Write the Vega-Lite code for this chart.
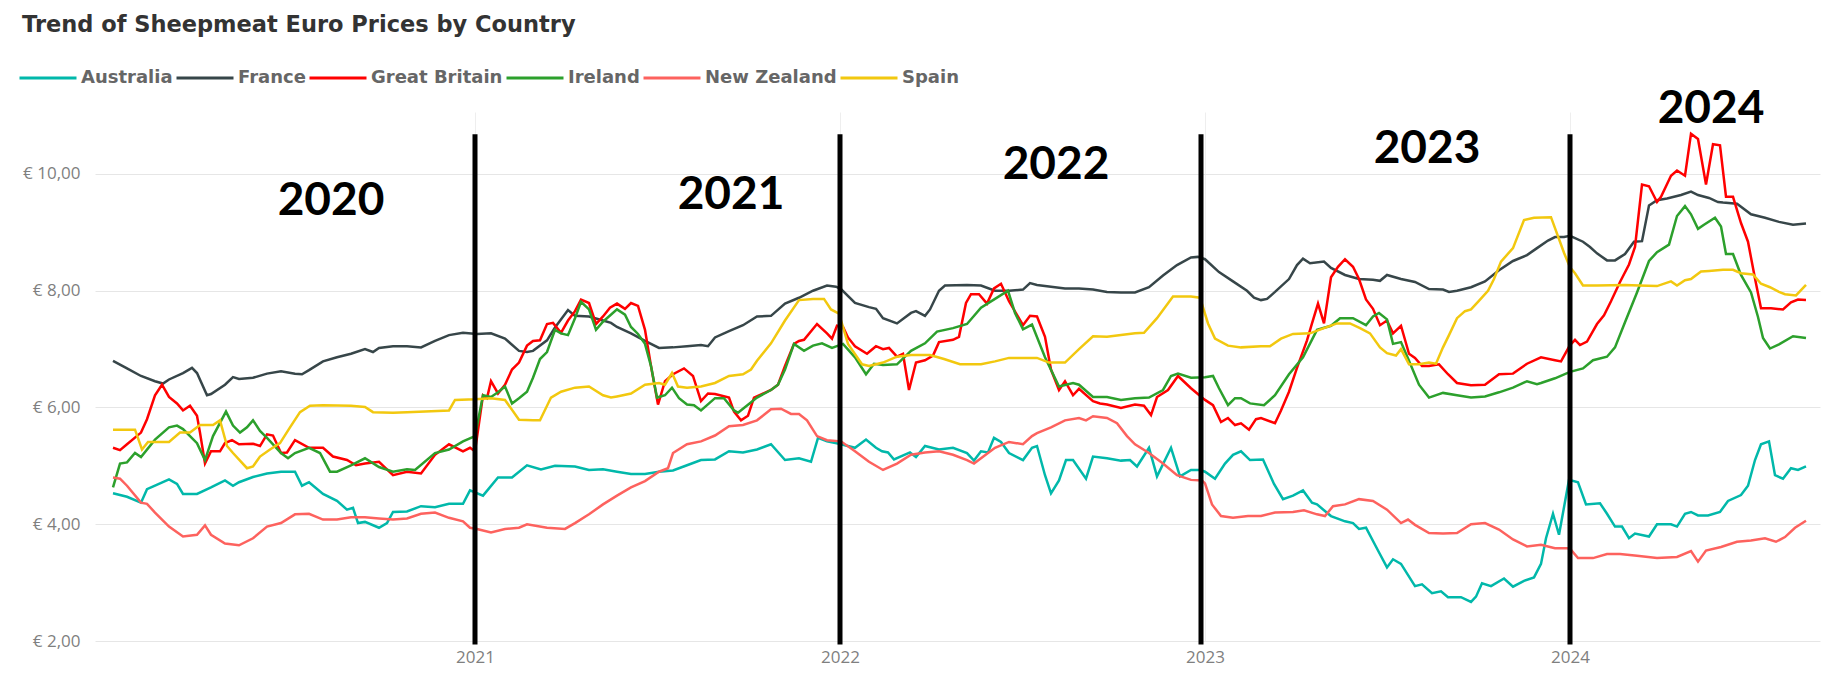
{
"$schema": "https://vega.github.io/schema/vega-lite/v6.json",
"width": 1725,
"height": 529,
"autosize": {"type": "none"},
"padding": {"left": 95, "top": 112, "right": 11, "bottom": 45},
"background": "white",
"config": {
  "view": {"stroke": null},
  "axis": {"domain": false, "ticks": false, "labelFont": "Open Sans", "labelFontSize": 17, "labelColor": "#7f7f7f", "gridColor": "#e6e6e6", "gridWidth": 1, "labelOverlap": false, "labelFlush": false}
},
"title": {"text": "Trend of Sheepmeat Euro Prices by Country", "anchor": "start", "frame": "group", "dx": -73, "offset": -11, "baseline": "bottom", "font": "DejaVu Sans", "fontSize": 22.5, "fontWeight": "bold", "color": "#333333"},
"datasets": {
"Australia": [
{"date":"2020-01-05","price":4.53},{"date":"2020-01-19","price":4.47},{"date":"2020-02-02","price":4.37},{"date":"2020-02-08","price":4.60},{"date":"2020-02-16","price":4.66},{"date":"2020-03-01","price":4.77},{"date":"2020-03-09","price":4.69},{"date":"2020-03-15","price":4.52},{"date":"2020-03-29","price":4.52},{"date":"2020-04-12","price":4.63},{"date":"2020-04-26","price":4.75},{"date":"2020-05-04","price":4.66},{"date":"2020-05-10","price":4.72},{"date":"2020-05-24","price":4.81},{"date":"2020-06-07","price":4.87},{"date":"2020-06-21","price":4.90},{"date":"2020-07-05","price":4.90},{"date":"2020-07-12","price":4.66},{"date":"2020-07-19","price":4.72},{"date":"2020-08-02","price":4.52},{"date":"2020-08-16","price":4.40},{"date":"2020-08-26","price":4.25},{"date":"2020-09-01","price":4.28},{"date":"2020-09-06","price":4.02},{"date":"2020-09-13","price":4.04},{"date":"2020-09-27","price":3.94},{"date":"2020-10-05","price":4.02},{"date":"2020-10-11","price":4.21},{"date":"2020-10-25","price":4.22},{"date":"2020-11-08","price":4.31},{"date":"2020-11-22","price":4.29},{"date":"2020-12-06","price":4.35},{"date":"2020-12-20","price":4.35},{"date":"2020-12-27","price":4.58},
{"date":"2021-01-09","price":4.49},{"date":"2021-01-24","price":4.80},{"date":"2021-02-07","price":4.80},{"date":"2021-02-22","price":5.01},{"date":"2021-03-08","price":4.94},{"date":"2021-03-22","price":5.00},{"date":"2021-04-11","price":4.99},{"date":"2021-04-25","price":4.93},{"date":"2021-05-09","price":4.94},{"date":"2021-05-23","price":4.90},{"date":"2021-06-06","price":4.86},{"date":"2021-06-20","price":4.86},{"date":"2021-07-04","price":4.90},{"date":"2021-07-18","price":4.92},{"date":"2021-08-01","price":5.01},{"date":"2021-08-15","price":5.10},{"date":"2021-08-29","price":5.11},{"date":"2021-09-12","price":5.25},{"date":"2021-09-26","price":5.23},{"date":"2021-10-10","price":5.28},{"date":"2021-10-24","price":5.37},{"date":"2021-11-07","price":5.10},{"date":"2021-11-21","price":5.13},{"date":"2021-12-03","price":5.07},{"date":"2021-12-10","price":5.48},{"date":"2021-12-19","price":5.42},{"date":"2021-12-31","price":5.38},
{"date":"2022-01-16","price":5.31},{"date":"2022-01-27","price":5.45},{"date":"2022-02-06","price":5.31},{"date":"2022-02-12","price":5.25},{"date":"2022-02-18","price":5.23},{"date":"2022-02-24","price":5.11},{"date":"2022-03-12","price":5.23},{"date":"2022-03-18","price":5.15},{"date":"2022-03-27","price":5.34},{"date":"2022-04-10","price":5.28},{"date":"2022-04-24","price":5.31},{"date":"2022-05-08","price":5.22},{"date":"2022-05-15","price":5.09},{"date":"2022-05-22","price":5.25},{"date":"2022-05-29","price":5.23},{"date":"2022-06-04","price":5.48},{"date":"2022-06-11","price":5.41},{"date":"2022-06-19","price":5.22},{"date":"2022-07-03","price":5.10},{"date":"2022-07-12","price":5.31},{"date":"2022-07-17","price":5.34},{"date":"2022-07-25","price":4.84},{"date":"2022-07-31","price":4.53},{"date":"2022-08-08","price":4.75},{"date":"2022-08-15","price":5.10},{"date":"2022-08-22","price":5.10},{"date":"2022-09-04","price":4.78},{"date":"2022-09-11","price":5.16},{"date":"2022-09-25","price":5.13},{"date":"2022-10-09","price":5.09},{"date":"2022-10-18","price":5.10},{"date":"2022-10-25","price":4.99},{"date":"2022-11-06","price":5.31},{"date":"2022-11-14","price":4.82},{"date":"2022-11-28","price":5.31},{"date":"2022-12-07","price":4.82},{"date":"2022-12-18","price":4.93},{"date":"2022-12-27","price":4.93},
{"date":"2023-01-01","price":4.90},{"date":"2023-01-11","price":4.78},{"date":"2023-01-21","price":5.04},{"date":"2023-01-29","price":5.19},{"date":"2023-02-06","price":5.25},{"date":"2023-02-15","price":5.10},{"date":"2023-02-28","price":5.11},{"date":"2023-03-11","price":4.69},{"date":"2023-03-20","price":4.43},{"date":"2023-03-30","price":4.49},{"date":"2023-04-09","price":4.58},{"date":"2023-04-18","price":4.37},{"date":"2023-04-23","price":4.34},{"date":"2023-05-07","price":4.14},{"date":"2023-05-21","price":4.05},{"date":"2023-05-29","price":4.02},{"date":"2023-06-04","price":3.92},{"date":"2023-06-11","price":3.94},{"date":"2023-06-23","price":3.55},{"date":"2023-07-02","price":3.26},{"date":"2023-07-08","price":3.40},{"date":"2023-07-16","price":3.32},{"date":"2023-07-30","price":2.94},{"date":"2023-08-06","price":2.97},{"date":"2023-08-16","price":2.82},{"date":"2023-08-25","price":2.85},{"date":"2023-09-01","price":2.75},{"date":"2023-09-14","price":2.75},{"date":"2023-09-24","price":2.67},{"date":"2023-09-29","price":2.76},{"date":"2023-10-05","price":2.99},{"date":"2023-10-14","price":2.94},{"date":"2023-10-27","price":3.07},{"date":"2023-11-05","price":2.93},{"date":"2023-11-16","price":3.03},{"date":"2023-11-26","price":3.09},{"date":"2023-12-03","price":3.32},{"date":"2023-12-08","price":3.76},{"date":"2023-12-15","price":4.18},{"date":"2023-12-21","price":3.82},{"date":"2023-12-31","price":4.76},
{"date":"2024-01-09","price":4.72},{"date":"2024-01-17","price":4.34},{"date":"2024-01-31","price":4.36},{"date":"2024-02-07","price":4.18},{"date":"2024-02-15","price":3.96},{"date":"2024-02-22","price":3.96},{"date":"2024-02-29","price":3.76},{"date":"2024-03-06","price":3.84},{"date":"2024-03-20","price":3.79},{"date":"2024-03-28","price":4.00},{"date":"2024-04-11","price":4.00},{"date":"2024-04-17","price":3.96},{"date":"2024-04-25","price":4.18},{"date":"2024-05-01","price":4.21},{"date":"2024-05-08","price":4.15},{"date":"2024-05-18","price":4.15},{"date":"2024-05-30","price":4.21},{"date":"2024-06-07","price":4.40},{"date":"2024-06-20","price":4.50},{"date":"2024-06-27","price":4.66},{"date":"2024-07-04","price":5.10},{"date":"2024-07-10","price":5.37},{"date":"2024-07-18","price":5.42},{"date":"2024-07-24","price":4.84},{"date":"2024-08-01","price":4.78},{"date":"2024-08-09","price":4.96},{"date":"2024-08-16","price":4.93},{"date":"2024-08-24","price":4.99}
],
"France": [
{"date":"2020-01-05","price":6.80},{"date":"2020-01-19","price":6.67},{"date":"2020-02-02","price":6.54},{"date":"2020-02-16","price":6.45},{"date":"2020-02-24","price":6.41},{"date":"2020-03-01","price":6.48},{"date":"2020-03-15","price":6.59},{"date":"2020-03-24","price":6.68},{"date":"2020-03-29","price":6.59},{"date":"2020-04-08","price":6.21},{"date":"2020-04-12","price":6.23},{"date":"2020-04-26","price":6.39},{"date":"2020-05-04","price":6.52},{"date":"2020-05-10","price":6.49},{"date":"2020-05-24","price":6.51},{"date":"2020-06-07","price":6.58},{"date":"2020-06-21","price":6.62},{"date":"2020-07-05","price":6.58},{"date":"2020-07-12","price":6.57},{"date":"2020-07-19","price":6.64},{"date":"2020-08-02","price":6.79},{"date":"2020-08-16","price":6.86},{"date":"2020-08-30","price":6.92},{"date":"2020-09-13","price":7.00},{"date":"2020-09-21","price":6.95},{"date":"2020-09-27","price":7.02},{"date":"2020-10-11","price":7.05},{"date":"2020-10-25","price":7.05},{"date":"2020-11-08","price":7.03},{"date":"2020-11-22","price":7.14},{"date":"2020-12-06","price":7.24},{"date":"2020-12-20","price":7.28},
{"date":"2021-01-03","price":7.26},{"date":"2021-01-17","price":7.27},{"date":"2021-01-31","price":7.18},{"date":"2021-02-14","price":6.97},{"date":"2021-02-22","price":6.95},{"date":"2021-02-28","price":6.97},{"date":"2021-03-14","price":7.15},{"date":"2021-03-22","price":7.37},{"date":"2021-04-04","price":7.67},{"date":"2021-04-11","price":7.57},{"date":"2021-04-25","price":7.56},{"date":"2021-05-09","price":7.49},{"date":"2021-05-17","price":7.45},{"date":"2021-05-23","price":7.38},{"date":"2021-06-06","price":7.27},{"date":"2021-06-20","price":7.14},{"date":"2021-07-04","price":7.02},{"date":"2021-07-18","price":7.03},{"date":"2021-08-01","price":7.05},{"date":"2021-08-15","price":7.07},{"date":"2021-08-22","price":7.05},{"date":"2021-08-29","price":7.20},{"date":"2021-09-12","price":7.31},{"date":"2021-09-26","price":7.41},{"date":"2021-10-10","price":7.56},{"date":"2021-10-24","price":7.57},{"date":"2021-11-07","price":7.78},{"date":"2021-11-21","price":7.88},{"date":"2021-12-05","price":8.00},{"date":"2021-12-19","price":8.09},{"date":"2021-12-28","price":8.07},
{"date":"2022-01-02","price":8.03},{"date":"2022-01-16","price":7.79},{"date":"2022-01-30","price":7.72},{"date":"2022-02-06","price":7.69},{"date":"2022-02-13","price":7.53},{"date":"2022-02-27","price":7.44},{"date":"2022-03-13","price":7.62},{"date":"2022-03-18","price":7.65},{"date":"2022-03-27","price":7.57},{"date":"2022-04-01","price":7.68},{"date":"2022-04-10","price":8.00},{"date":"2022-04-16","price":8.09},{"date":"2022-05-08","price":8.10},{"date":"2022-05-22","price":8.09},{"date":"2022-06-05","price":8.00},{"date":"2022-06-19","price":8.00},{"date":"2022-07-03","price":8.02},{"date":"2022-07-10","price":8.13},{"date":"2022-07-17","price":8.10},{"date":"2022-07-31","price":8.07},{"date":"2022-08-14","price":8.04},{"date":"2022-08-28","price":8.04},{"date":"2022-09-11","price":8.02},{"date":"2022-09-25","price":7.98},{"date":"2022-10-09","price":7.97},{"date":"2022-10-23","price":7.97},{"date":"2022-11-06","price":8.06},{"date":"2022-11-20","price":8.26},{"date":"2022-12-04","price":8.44},{"date":"2022-12-18","price":8.57},{"date":"2022-12-25","price":8.58},
{"date":"2023-01-01","price":8.54},{"date":"2023-01-15","price":8.32},{"date":"2023-01-29","price":8.16},{"date":"2023-02-12","price":8.00},{"date":"2023-02-19","price":7.88},{"date":"2023-02-26","price":7.84},{"date":"2023-03-04","price":7.86},{"date":"2023-03-12","price":7.98},{"date":"2023-03-26","price":8.20},{"date":"2023-04-03","price":8.44},{"date":"2023-04-09","price":8.55},{"date":"2023-04-16","price":8.47},{"date":"2023-04-30","price":8.50},{"date":"2023-05-07","price":8.39},{"date":"2023-05-21","price":8.27},{"date":"2023-06-04","price":8.20},{"date":"2023-06-18","price":8.19},{"date":"2023-06-25","price":8.17},{"date":"2023-07-02","price":8.27},{"date":"2023-07-16","price":8.20},{"date":"2023-07-30","price":8.15},{"date":"2023-08-13","price":8.03},{"date":"2023-08-27","price":8.02},{"date":"2023-09-02","price":7.98},{"date":"2023-09-10","price":8.00},{"date":"2023-09-24","price":8.06},{"date":"2023-10-08","price":8.16},{"date":"2023-10-22","price":8.35},{"date":"2023-11-05","price":8.51},{"date":"2023-11-19","price":8.61},{"date":"2023-11-29","price":8.73},{"date":"2023-12-10","price":8.86},{"date":"2023-12-17","price":8.92},{"date":"2023-12-26","price":8.92},
{"date":"2024-01-01","price":8.94},{"date":"2024-01-14","price":8.84},{"date":"2024-01-21","price":8.75},{"date":"2024-01-28","price":8.64},{"date":"2024-02-07","price":8.52},{"date":"2024-02-15","price":8.52},{"date":"2024-02-25","price":8.63},{"date":"2024-03-05","price":8.84},{"date":"2024-03-13","price":8.85},{"date":"2024-03-20","price":9.46},{"date":"2024-03-28","price":9.55},{"date":"2024-04-07","price":9.58},{"date":"2024-04-21","price":9.64},{"date":"2024-05-01","price":9.70},{"date":"2024-05-08","price":9.64},{"date":"2024-05-19","price":9.59},{"date":"2024-05-28","price":9.52},{"date":"2024-06-02","price":9.51},{"date":"2024-06-16","price":9.49},{"date":"2024-06-30","price":9.31},{"date":"2024-07-07","price":9.28},{"date":"2024-07-14","price":9.25},{"date":"2024-07-28","price":9.18},{"date":"2024-08-11","price":9.13},{"date":"2024-08-24","price":9.15}
],
"GreatBritain": [
{"date":"2020-01-05","price":5.31},{"date":"2020-01-12","price":5.27},{"date":"2020-01-19","price":5.37},{"date":"2020-02-02","price":5.57},{"date":"2020-02-08","price":5.80},{"date":"2020-02-16","price":6.21},{"date":"2020-02-23","price":6.39},{"date":"2020-03-01","price":6.18},{"date":"2020-03-09","price":6.07},{"date":"2020-03-15","price":5.95},{"date":"2020-03-22","price":6.03},{"date":"2020-03-29","price":5.86},{"date":"2020-04-01","price":5.57},{"date":"2020-04-06","price":5.04},{"date":"2020-04-12","price":5.25},{"date":"2020-04-21","price":5.25},{"date":"2020-04-26","price":5.39},{"date":"2020-05-03","price":5.44},{"date":"2020-05-10","price":5.37},{"date":"2020-05-24","price":5.38},{"date":"2020-05-31","price":5.34},{"date":"2020-06-07","price":5.54},{"date":"2020-06-13","price":5.52},{"date":"2020-06-21","price":5.22},{"date":"2020-06-27","price":5.23},{"date":"2020-07-05","price":5.44},{"date":"2020-07-19","price":5.31},{"date":"2020-08-02","price":5.31},{"date":"2020-08-12","price":5.16},{"date":"2020-08-26","price":5.10},{"date":"2020-09-04","price":5.01},{"date":"2020-09-13","price":5.04},{"date":"2020-09-27","price":5.07},{"date":"2020-10-11","price":4.84},{"date":"2020-10-25","price":4.90},{"date":"2020-11-08","price":4.87},{"date":"2020-11-22","price":5.19},{"date":"2020-12-06","price":5.37},{"date":"2020-12-20","price":5.25},{"date":"2020-12-27","price":5.31},
{"date":"2021-01-01","price":5.25},{"date":"2021-01-09","price":6.21},{"date":"2021-01-13","price":6.16},{"date":"2021-01-17","price":6.45},{"date":"2021-01-24","price":6.24},{"date":"2021-01-31","price":6.39},{"date":"2021-02-07","price":6.65},{"date":"2021-02-14","price":6.77},{"date":"2021-02-22","price":7.06},{"date":"2021-02-28","price":7.14},{"date":"2021-03-07","price":7.15},{"date":"2021-03-14","price":7.43},{"date":"2021-03-20","price":7.45},{"date":"2021-03-28","price":7.28},{"date":"2021-04-04","price":7.49},{"date":"2021-04-11","price":7.65},{"date":"2021-04-17","price":7.85},{"date":"2021-04-25","price":7.79},{"date":"2021-05-02","price":7.43},{"date":"2021-05-09","price":7.56},{"date":"2021-05-16","price":7.71},{"date":"2021-05-23","price":7.78},{"date":"2021-05-31","price":7.69},{"date":"2021-06-06","price":7.79},{"date":"2021-06-13","price":7.74},{"date":"2021-06-20","price":7.33},{"date":"2021-06-26","price":6.71},{"date":"2021-07-03","price":6.05},{"date":"2021-07-10","price":6.45},{"date":"2021-07-18","price":6.57},{"date":"2021-07-29","price":6.67},{"date":"2021-08-07","price":6.54},{"date":"2021-08-15","price":6.11},{"date":"2021-08-22","price":6.24},{"date":"2021-08-29","price":6.23},{"date":"2021-09-12","price":6.17},{"date":"2021-09-17","price":5.93},{"date":"2021-09-24","price":5.78},{"date":"2021-10-01","price":5.86},{"date":"2021-10-07","price":6.17},{"date":"2021-10-24","price":6.30},{"date":"2021-10-31","price":6.39},{"date":"2021-11-07","price":6.71},{"date":"2021-11-16","price":7.09},{"date":"2021-11-21","price":7.14},{"date":"2021-11-26","price":7.16},{"date":"2021-12-09","price":7.43},{"date":"2021-12-19","price":7.27},{"date":"2021-12-24","price":7.18},{"date":"2021-12-29","price":7.40},
{"date":"2022-01-04","price":7.38},{"date":"2022-01-09","price":7.20},{"date":"2022-01-16","price":7.05},{"date":"2022-01-28","price":6.92},{"date":"2022-02-06","price":7.05},{"date":"2022-02-13","price":7.00},{"date":"2022-02-19","price":7.02},{"date":"2022-02-27","price":6.87},{"date":"2022-03-05","price":6.92},{"date":"2022-03-11","price":6.30},{"date":"2022-03-18","price":6.77},{"date":"2022-03-27","price":6.81},{"date":"2022-04-04","price":6.89},{"date":"2022-04-10","price":7.12},{"date":"2022-04-24","price":7.16},{"date":"2022-04-30","price":7.21},{"date":"2022-05-07","price":7.79},{"date":"2022-05-12","price":7.94},{"date":"2022-05-20","price":7.94},{"date":"2022-05-28","price":7.78},{"date":"2022-06-04","price":8.04},{"date":"2022-06-11","price":8.12},{"date":"2022-06-19","price":7.82},{"date":"2022-07-03","price":7.41},{"date":"2022-07-10","price":7.57},{"date":"2022-07-17","price":7.56},{"date":"2022-07-25","price":7.21},{"date":"2022-07-31","price":6.65},{"date":"2022-08-08","price":6.30},{"date":"2022-08-14","price":6.45},{"date":"2022-08-22","price":6.21},{"date":"2022-08-28","price":6.32},{"date":"2022-09-11","price":6.11},{"date":"2022-09-18","price":6.07},{"date":"2022-09-25","price":6.05},{"date":"2022-10-09","price":5.99},{"date":"2022-10-23","price":6.05},{"date":"2022-11-01","price":6.03},{"date":"2022-11-08","price":5.87},{"date":"2022-11-14","price":6.18},{"date":"2022-11-25","price":6.30},{"date":"2022-12-05","price":6.54},{"date":"2022-12-18","price":6.33},{"date":"2022-12-29","price":6.17},
{"date":"2023-01-01","price":6.13},{"date":"2023-01-09","price":6.04},{"date":"2023-01-17","price":5.75},{"date":"2023-01-24","price":5.82},{"date":"2023-01-31","price":5.70},{"date":"2023-02-06","price":5.73},{"date":"2023-02-14","price":5.62},{"date":"2023-02-21","price":5.80},{"date":"2023-02-26","price":5.82},{"date":"2023-03-12","price":5.73},{"date":"2023-03-18","price":5.95},{"date":"2023-03-26","price":6.27},{"date":"2023-04-03","price":6.68},{"date":"2023-04-13","price":7.15},{"date":"2023-04-18","price":7.44},{"date":"2023-04-24","price":7.78},{"date":"2023-04-30","price":7.44},{"date":"2023-05-07","price":8.23},{"date":"2023-05-14","price":8.41},{"date":"2023-05-21","price":8.54},{"date":"2023-05-29","price":8.41},{"date":"2023-06-04","price":8.20},{"date":"2023-06-11","price":7.85},{"date":"2023-06-18","price":7.69},{"date":"2023-06-25","price":7.41},{"date":"2023-07-02","price":7.49},{"date":"2023-07-08","price":7.27},{"date":"2023-07-16","price":7.40},{"date":"2023-07-24","price":6.92},{"date":"2023-07-30","price":6.85},{"date":"2023-08-06","price":6.71},{"date":"2023-08-13","price":6.71},{"date":"2023-08-23","price":6.74},{"date":"2023-09-01","price":6.57},{"date":"2023-09-10","price":6.42},{"date":"2023-09-24","price":6.38},{"date":"2023-10-08","price":6.39},{"date":"2023-10-22","price":6.57},{"date":"2023-11-05","price":6.58},{"date":"2023-11-19","price":6.75},{"date":"2023-12-03","price":6.86},{"date":"2023-12-17","price":6.81},{"date":"2023-12-23","price":6.79},
{"date":"2024-01-01","price":7.07},{"date":"2024-01-06","price":7.16},{"date":"2024-01-11","price":7.07},{"date":"2024-01-18","price":7.13},{"date":"2024-01-28","price":7.43},{"date":"2024-02-04","price":7.58},{"date":"2024-02-11","price":7.82},{"date":"2024-02-20","price":8.15},{"date":"2024-02-29","price":8.45},{"date":"2024-03-06","price":8.75},{"date":"2024-03-13","price":9.82},{"date":"2024-03-20","price":9.79},{"date":"2024-03-28","price":9.52},{"date":"2024-04-01","price":9.61},{"date":"2024-04-11","price":9.97},{"date":"2024-04-17","price":10.06},{"date":"2024-04-25","price":9.97},{"date":"2024-05-01","price":10.69},{"date":"2024-05-08","price":10.60},{"date":"2024-05-16","price":9.82},{"date":"2024-05-23","price":10.51},{"date":"2024-05-30","price":10.49},{"date":"2024-06-05","price":9.61},{"date":"2024-06-12","price":9.61},{"date":"2024-06-20","price":9.16},{"date":"2024-06-27","price":8.84},{"date":"2024-07-04","price":8.21},{"date":"2024-07-10","price":7.70},{"date":"2024-07-20","price":7.70},{"date":"2024-08-01","price":7.68},{"date":"2024-08-09","price":7.80},{"date":"2024-08-16","price":7.85},{"date":"2024-08-24","price":7.84}
],
"Ireland": [
{"date":"2020-01-05","price":4.63},{"date":"2020-01-12","price":5.04},{"date":"2020-01-19","price":5.06},{"date":"2020-01-27","price":5.22},{"date":"2020-02-02","price":5.15},{"date":"2020-02-16","price":5.45},{"date":"2020-03-01","price":5.66},{"date":"2020-03-09","price":5.69},{"date":"2020-03-15","price":5.63},{"date":"2020-03-29","price":5.39},{"date":"2020-04-06","price":5.10},{"date":"2020-04-14","price":5.51},{"date":"2020-04-27","price":5.93},{"date":"2020-05-04","price":5.69},{"date":"2020-05-11","price":5.57},{"date":"2020-05-18","price":5.66},{"date":"2020-05-24","price":5.78},{"date":"2020-05-31","price":5.60},{"date":"2020-06-07","price":5.48},{"date":"2020-06-21","price":5.22},{"date":"2020-06-28","price":5.13},{"date":"2020-07-05","price":5.22},{"date":"2020-07-19","price":5.31},{"date":"2020-07-30","price":5.22},{"date":"2020-08-09","price":4.90},{"date":"2020-08-16","price":4.90},{"date":"2020-08-30","price":5.01},{"date":"2020-09-13","price":5.13},{"date":"2020-09-27","price":4.98},{"date":"2020-10-11","price":4.90},{"date":"2020-10-25","price":4.94},{"date":"2020-11-02","price":4.93},{"date":"2020-11-22","price":5.22},{"date":"2020-12-06","price":5.28},{"date":"2020-12-20","price":5.42},
{"date":"2021-01-01","price":5.51},{"date":"2021-01-09","price":6.21},{"date":"2021-01-17","price":6.18},{"date":"2021-01-24","price":6.26},{"date":"2021-01-31","price":6.36},{"date":"2021-02-07","price":6.07},{"date":"2021-02-14","price":6.16},{"date":"2021-02-22","price":6.27},{"date":"2021-02-28","price":6.51},{"date":"2021-03-07","price":6.83},{"date":"2021-03-14","price":6.95},{"date":"2021-03-22","price":7.33},{"date":"2021-03-28","price":7.27},{"date":"2021-04-04","price":7.24},{"date":"2021-04-11","price":7.53},{"date":"2021-04-17","price":7.81},{"date":"2021-04-25","price":7.68},{"date":"2021-05-02","price":7.33},{"date":"2021-05-09","price":7.47},{"date":"2021-05-23","price":7.68},{"date":"2021-05-31","price":7.59},{"date":"2021-06-06","price":7.38},{"date":"2021-06-13","price":7.26},{"date":"2021-06-20","price":7.09},{"date":"2021-06-26","price":6.71},{"date":"2021-07-02","price":6.17},{"date":"2021-07-10","price":6.21},{"date":"2021-07-17","price":6.34},{"date":"2021-07-24","price":6.16},{"date":"2021-08-01","price":6.05},{"date":"2021-08-08","price":6.04},{"date":"2021-08-15","price":5.95},{"date":"2021-08-29","price":6.16},{"date":"2021-09-07","price":6.16},{"date":"2021-09-17","price":5.95},{"date":"2021-09-21","price":5.91},{"date":"2021-09-26","price":5.98},{"date":"2021-10-10","price":6.17},{"date":"2021-10-24","price":6.30},{"date":"2021-10-31","price":6.39},{"date":"2021-11-07","price":6.65},{"date":"2021-11-16","price":7.09},{"date":"2021-11-26","price":6.97},{"date":"2021-12-05","price":7.06},{"date":"2021-12-14","price":7.10},{"date":"2021-12-24","price":7.02},
{"date":"2022-01-04","price":7.09},{"date":"2022-01-16","price":6.86},{"date":"2022-01-27","price":6.57},{"date":"2022-02-04","price":6.75},{"date":"2022-02-13","price":6.73},{"date":"2022-02-27","price":6.74},{"date":"2022-03-13","price":6.97},{"date":"2022-03-27","price":7.10},{"date":"2022-04-08","price":7.30},{"date":"2022-04-24","price":7.36},{"date":"2022-05-08","price":7.43},{"date":"2022-05-22","price":7.71},{"date":"2022-06-05","price":7.86},{"date":"2022-06-18","price":8.00},{"date":"2022-06-25","price":7.62},{"date":"2022-07-03","price":7.34},{"date":"2022-07-12","price":7.42},{"date":"2022-07-25","price":6.86},{"date":"2022-08-08","price":6.36},{"date":"2022-08-22","price":6.42},{"date":"2022-08-28","price":6.39},{"date":"2022-09-11","price":6.18},{"date":"2022-09-25","price":6.18},{"date":"2022-10-09","price":6.13},{"date":"2022-10-23","price":6.16},{"date":"2022-11-06","price":6.17},{"date":"2022-11-20","price":6.30},{"date":"2022-11-28","price":6.54},{"date":"2022-12-05","price":6.58},{"date":"2022-12-18","price":6.51},
{"date":"2023-01-01","price":6.52},{"date":"2023-01-09","price":6.54},{"date":"2023-01-15","price":6.33},{"date":"2023-01-24","price":6.04},{"date":"2023-01-31","price":6.16},{"date":"2023-02-06","price":6.16},{"date":"2023-02-15","price":6.07},{"date":"2023-03-01","price":6.04},{"date":"2023-03-12","price":6.21},{"date":"2023-03-26","price":6.57},{"date":"2023-04-09","price":6.86},{"date":"2023-04-23","price":7.33},{"date":"2023-05-07","price":7.40},{"date":"2023-05-16","price":7.53},{"date":"2023-05-29","price":7.53},{"date":"2023-06-11","price":7.41},{"date":"2023-06-18","price":7.56},{"date":"2023-06-24","price":7.62},{"date":"2023-07-02","price":7.51},{"date":"2023-07-08","price":7.09},{"date":"2023-07-16","price":7.12},{"date":"2023-07-24","price":6.80},{"date":"2023-08-03","price":6.39},{"date":"2023-08-13","price":6.17},{"date":"2023-08-27","price":6.25},{"date":"2023-09-10","price":6.21},{"date":"2023-09-24","price":6.17},{"date":"2023-10-08","price":6.19},{"date":"2023-10-22","price":6.26},{"date":"2023-11-05","price":6.34},{"date":"2023-11-19","price":6.45},{"date":"2023-11-29","price":6.40},{"date":"2023-12-03","price":6.42},{"date":"2023-12-17","price":6.50},
{"date":"2024-01-01","price":6.61},{"date":"2024-01-14","price":6.67},{"date":"2024-01-24","price":6.81},{"date":"2024-02-07","price":6.87},{"date":"2024-02-15","price":7.03},{"date":"2024-02-25","price":7.46},{"date":"2024-03-08","price":7.97},{"date":"2024-03-20","price":8.51},{"date":"2024-03-28","price":8.66},{"date":"2024-04-09","price":8.79},{"date":"2024-04-17","price":9.28},{"date":"2024-04-25","price":9.45},{"date":"2024-05-01","price":9.31},{"date":"2024-05-08","price":9.06},{"date":"2024-05-14","price":9.13},{"date":"2024-05-25","price":9.25},{"date":"2024-05-31","price":9.10},{"date":"2024-06-05","price":8.63},{"date":"2024-06-12","price":8.63},{"date":"2024-06-20","price":8.27},{"date":"2024-06-30","price":7.97},{"date":"2024-07-07","price":7.55},{"date":"2024-07-12","price":7.19},{"date":"2024-07-19","price":7.01},{"date":"2024-07-28","price":7.08},{"date":"2024-08-11","price":7.22},{"date":"2024-08-24","price":7.19}
],
"NewZealand": [
{"date":"2020-01-05","price":4.80},{"date":"2020-01-12","price":4.78},{"date":"2020-01-19","price":4.66},{"date":"2020-02-02","price":4.37},{"date":"2020-02-08","price":4.35},{"date":"2020-02-16","price":4.20},{"date":"2020-03-01","price":3.96},{"date":"2020-03-15","price":3.79},{"date":"2020-03-29","price":3.82},{"date":"2020-04-06","price":3.98},{"date":"2020-04-12","price":3.82},{"date":"2020-04-26","price":3.67},{"date":"2020-05-10","price":3.64},{"date":"2020-05-24","price":3.76},{"date":"2020-06-07","price":3.96},{"date":"2020-06-21","price":4.02},{"date":"2020-07-05","price":4.17},{"date":"2020-07-19","price":4.18},{"date":"2020-08-02","price":4.08},{"date":"2020-08-16","price":4.08},{"date":"2020-08-30","price":4.12},{"date":"2020-09-13","price":4.12},{"date":"2020-09-27","price":4.10},{"date":"2020-10-11","price":4.08},{"date":"2020-10-25","price":4.10},{"date":"2020-11-08","price":4.18},{"date":"2020-11-22","price":4.20},{"date":"2020-12-06","price":4.11},{"date":"2020-12-20","price":4.05},{"date":"2020-12-27","price":3.94},
{"date":"2021-01-03","price":3.92},{"date":"2021-01-17","price":3.86},{"date":"2021-01-31","price":3.92},{"date":"2021-02-14","price":3.94},{"date":"2021-02-22","price":4.00},{"date":"2021-03-14","price":3.94},{"date":"2021-04-01","price":3.92},{"date":"2021-04-11","price":4.02},{"date":"2021-04-25","price":4.17},{"date":"2021-05-09","price":4.34},{"date":"2021-05-23","price":4.49},{"date":"2021-06-06","price":4.63},{"date":"2021-06-20","price":4.74},{"date":"2021-07-04","price":4.90},{"date":"2021-07-13","price":4.96},{"date":"2021-07-18","price":5.22},{"date":"2021-08-01","price":5.37},{"date":"2021-08-15","price":5.42},{"date":"2021-08-29","price":5.52},{"date":"2021-09-12","price":5.68},{"date":"2021-09-26","price":5.70},{"date":"2021-10-10","price":5.78},{"date":"2021-10-24","price":5.97},{"date":"2021-11-03","price":5.98},{"date":"2021-11-13","price":5.89},{"date":"2021-11-21","price":5.89},{"date":"2021-11-29","price":5.78},{"date":"2021-12-09","price":5.51},{"date":"2021-12-19","price":5.44},
{"date":"2022-01-02","price":5.42},{"date":"2022-01-16","price":5.25},{"date":"2022-01-30","price":5.07},{"date":"2022-02-13","price":4.93},{"date":"2022-02-27","price":5.04},{"date":"2022-03-13","price":5.19},{"date":"2022-03-27","price":5.23},{"date":"2022-04-10","price":5.25},{"date":"2022-04-24","price":5.19},{"date":"2022-05-08","price":5.10},{"date":"2022-05-15","price":5.04},{"date":"2022-05-22","price":5.13},{"date":"2022-06-05","price":5.31},{"date":"2022-06-19","price":5.41},{"date":"2022-07-03","price":5.37},{"date":"2022-07-12","price":5.51},{"date":"2022-07-17","price":5.56},{"date":"2022-07-31","price":5.66},{"date":"2022-08-14","price":5.78},{"date":"2022-08-28","price":5.82},{"date":"2022-09-04","price":5.78},{"date":"2022-09-11","price":5.85},{"date":"2022-09-25","price":5.82},{"date":"2022-10-05","price":5.73},{"date":"2022-10-15","price":5.51},{"date":"2022-10-23","price":5.37},{"date":"2022-11-06","price":5.22},{"date":"2022-11-20","price":5.04},{"date":"2022-12-04","price":4.84},{"date":"2022-12-18","price":4.76},{"date":"2022-12-29","price":4.75},
{"date":"2023-01-01","price":4.70},{"date":"2023-01-08","price":4.34},{"date":"2023-01-17","price":4.14},{"date":"2023-01-29","price":4.11},{"date":"2023-02-13","price":4.14},{"date":"2023-02-26","price":4.14},{"date":"2023-03-12","price":4.20},{"date":"2023-03-30","price":4.21},{"date":"2023-04-10","price":4.24},{"date":"2023-04-23","price":4.17},{"date":"2023-05-01","price":4.14},{"date":"2023-05-09","price":4.31},{"date":"2023-05-21","price":4.34},{"date":"2023-06-04","price":4.43},{"date":"2023-06-18","price":4.40},{"date":"2023-07-02","price":4.25},{"date":"2023-07-16","price":4.02},{"date":"2023-07-23","price":4.08},{"date":"2023-07-30","price":3.99},{"date":"2023-08-13","price":3.85},{"date":"2023-08-27","price":3.84},{"date":"2023-09-10","price":3.85},{"date":"2023-09-24","price":4.00},{"date":"2023-10-08","price":4.02},{"date":"2023-10-22","price":3.91},{"date":"2023-11-05","price":3.74},{"date":"2023-11-19","price":3.62},{"date":"2023-12-03","price":3.65},{"date":"2023-12-17","price":3.59},{"date":"2023-12-29","price":3.59},
{"date":"2024-01-01","price":3.58},{"date":"2024-01-09","price":3.42},{"date":"2024-01-24","price":3.42},{"date":"2024-02-07","price":3.49},{"date":"2024-02-20","price":3.49},{"date":"2024-03-08","price":3.46},{"date":"2024-03-28","price":3.42},{"date":"2024-04-17","price":3.44},{"date":"2024-05-01","price":3.54},{"date":"2024-05-08","price":3.36},{"date":"2024-05-16","price":3.55},{"date":"2024-05-31","price":3.61},{"date":"2024-06-16","price":3.70},{"date":"2024-06-30","price":3.72},{"date":"2024-07-14","price":3.76},{"date":"2024-07-25","price":3.70},{"date":"2024-08-03","price":3.78},{"date":"2024-08-13","price":3.94},{"date":"2024-08-24","price":4.06}
],
"Spain": [
{"date":"2020-01-05","price":5.62},{"date":"2020-01-27","price":5.62},{"date":"2020-02-03","price":5.28},{"date":"2020-02-09","price":5.41},{"date":"2020-03-01","price":5.41},{"date":"2020-03-12","price":5.57},{"date":"2020-03-22","price":5.57},{"date":"2020-04-01","price":5.70},{"date":"2020-04-14","price":5.70},{"date":"2020-04-21","price":5.78},{"date":"2020-04-28","price":5.34},{"date":"2020-05-04","price":5.22},{"date":"2020-05-18","price":4.96},{"date":"2020-05-24","price":4.99},{"date":"2020-05-31","price":5.16},{"date":"2020-06-10","price":5.28},{"date":"2020-06-20","price":5.39},{"date":"2020-06-30","price":5.66},{"date":"2020-07-10","price":5.92},{"date":"2020-07-20","price":6.03},{"date":"2020-08-02","price":6.04},{"date":"2020-08-30","price":6.03},{"date":"2020-09-13","price":6.01},{"date":"2020-09-21","price":5.92},{"date":"2020-10-11","price":5.91},{"date":"2020-10-25","price":5.92},{"date":"2020-12-06","price":5.95},{"date":"2020-12-12","price":6.13},
{"date":"2021-01-01","price":6.14},{"date":"2021-01-17","price":6.16},{"date":"2021-01-31","price":6.13},{"date":"2021-02-14","price":5.79},{"date":"2021-02-28","price":5.78},{"date":"2021-03-07","price":5.78},{"date":"2021-03-18","price":6.17},{"date":"2021-03-28","price":6.27},{"date":"2021-04-11","price":6.34},{"date":"2021-04-25","price":6.36},{"date":"2021-05-09","price":6.21},{"date":"2021-05-17","price":6.17},{"date":"2021-05-23","price":6.19},{"date":"2021-06-06","price":6.24},{"date":"2021-06-20","price":6.39},{"date":"2021-07-04","price":6.42},{"date":"2021-07-10","price":6.39},{"date":"2021-07-17","price":6.59},{"date":"2021-07-23","price":6.36},{"date":"2021-08-01","price":6.34},{"date":"2021-08-15","price":6.36},{"date":"2021-08-29","price":6.42},{"date":"2021-09-12","price":6.54},{"date":"2021-09-26","price":6.57},{"date":"2021-10-04","price":6.65},{"date":"2021-10-10","price":6.80},{"date":"2021-10-24","price":7.10},{"date":"2021-11-07","price":7.49},{"date":"2021-11-21","price":7.84},{"date":"2021-12-05","price":7.86},{"date":"2021-12-16","price":7.86},{"date":"2021-12-23","price":7.68},{"date":"2021-12-31","price":7.61},
{"date":"2022-01-09","price":7.09},{"date":"2022-01-23","price":6.74},{"date":"2022-01-30","price":6.71},{"date":"2022-02-13","price":6.77},{"date":"2022-02-27","price":6.87},{"date":"2022-03-13","price":6.90},{"date":"2022-04-01","price":6.90},{"date":"2022-04-15","price":6.83},{"date":"2022-05-01","price":6.74},{"date":"2022-05-22","price":6.74},{"date":"2022-06-05","price":6.79},{"date":"2022-06-19","price":6.85},{"date":"2022-07-17","price":6.85},{"date":"2022-07-29","price":6.77},{"date":"2022-08-14","price":6.77},{"date":"2022-08-28","price":7.00},{"date":"2022-09-11","price":7.22},{"date":"2022-09-25","price":7.21},{"date":"2022-10-09","price":7.24},{"date":"2022-10-23","price":7.27},{"date":"2022-11-01","price":7.28},{"date":"2022-11-14","price":7.53},{"date":"2022-11-30","price":7.90},{"date":"2022-12-18","price":7.90},{"date":"2022-12-27","price":7.88},
{"date":"2023-01-04","price":7.44},{"date":"2023-01-11","price":7.18},{"date":"2023-01-24","price":7.06},{"date":"2023-02-06","price":7.03},{"date":"2023-02-26","price":7.05},{"date":"2023-03-07","price":7.05},{"date":"2023-03-18","price":7.18},{"date":"2023-03-30","price":7.26},{"date":"2023-04-16","price":7.27},{"date":"2023-04-30","price":7.36},{"date":"2023-05-13","price":7.44},{"date":"2023-05-26","price":7.44},{"date":"2023-06-05","price":7.36},{"date":"2023-06-15","price":7.27},{"date":"2023-06-25","price":7.03},{"date":"2023-07-02","price":6.93},{"date":"2023-07-11","price":6.89},{"date":"2023-07-16","price":7.00},{"date":"2023-07-24","price":6.74},{"date":"2023-08-03","price":6.74},{"date":"2023-08-13","price":6.77},{"date":"2023-08-20","price":6.75},{"date":"2023-08-27","price":7.03},{"date":"2023-09-02","price":7.24},{"date":"2023-09-10","price":7.53},{"date":"2023-09-18","price":7.65},{"date":"2023-09-24","price":7.68},{"date":"2023-10-01","price":7.81},{"date":"2023-10-11","price":8.00},{"date":"2023-10-17","price":8.20},{"date":"2023-10-24","price":8.50},{"date":"2023-11-05","price":8.73},{"date":"2023-11-16","price":9.21},{"date":"2023-11-26","price":9.25},{"date":"2023-12-13","price":9.26},{"date":"2023-12-26","price":8.65},
{"date":"2024-01-01","price":8.40},{"date":"2024-01-06","price":8.30},{"date":"2024-01-14","price":8.09},{"date":"2024-01-28","price":8.09},{"date":"2024-02-25","price":8.10},{"date":"2024-03-10","price":8.09},{"date":"2024-03-28","price":8.08},{"date":"2024-04-11","price":8.16},{"date":"2024-04-17","price":8.09},{"date":"2024-04-25","price":8.18},{"date":"2024-05-01","price":8.20},{"date":"2024-05-11","price":8.33},{"date":"2024-05-19","price":8.34},{"date":"2024-06-02","price":8.36},{"date":"2024-06-12","price":8.36},{"date":"2024-06-20","price":8.30},{"date":"2024-07-02","price":8.28},{"date":"2024-07-10","price":8.12},{"date":"2024-07-19","price":8.06},{"date":"2024-07-28","price":7.98},{"date":"2024-08-03","price":7.94},{"date":"2024-08-14","price":7.92},{"date":"2024-08-24","price":8.10}
],
"yearLines": [{"date":"2021-01-01"},{"date":"2022-01-01"},{"date":"2022-12-28"},{"date":"2024-01-01"}],
"yearLabels": [
{"label":"2020","date":"2020-08-10","price":9.54},
{"label":"2021","date":"2021-09-14","price":9.64},
{"label":"2022","date":"2022-08-05","price":10.15},
{"label":"2023","date":"2023-08-11","price":10.43},
{"label":"2024","date":"2024-05-21","price":11.11}
]
},
"encoding": {
  "x": {"field": "date", "type": "temporal",
        "scale": {"type": "utc", "domain": [{"year": 2019, "month": 12, "date": 18, "utc": true}, {"year": 2024, "month": 9, "date": 7, "utc": true}]},
        "axis": {"title": null, "values": [{"year": 2021, "month": 1, "date": 1, "utc": true}, {"year": 2022, "month": 1, "date": 1, "utc": true}, {"year": 2023, "month": 1, "date": 1, "utc": true}, {"year": 2024, "month": 1, "date": 1, "utc": true}], "format": "%Y", "labelPadding": 8, "gridColor": "#eeeeee"}}
},
"layer": [
  {"data": {"name": "Australia"}, "mark": {"type": "line", "strokeWidth": 2.5},
   "encoding": {
     "y": {"field": "price", "type": "quantitative", "scale": {"domain": [2, 11.062], "nice": false, "zero": false},
           "axis": {"title": null, "values": [2, 4, 6, 8, 10], "labelExpr": "'€ ' + replace(format(datum.value, '.2f'), '.', ',')", "labelPadding": 15}},
     "color": {"datum": "Australia", "type": "nominal",
               "scale": {"domain": ["Australia", "France", "Great Britain", "Ireland", "New Zealand", "Spain"], "range": ["#01B8AA", "#374649", "#FF0000", "#2CA02C", "#FD625E", "#F2C80F"]},
               "legend": {"title": null, "orient": "none", "legendX": -77, "legendY": -64, "direction": "horizontal", "symbolType": "stroke", "symbolSize": 3249, "symbolStrokeWidth": 3, "labelFont": "DejaVu Sans", "labelFontSize": 18, "labelFontWeight": "bold", "labelColor": "#666666", "labelOffset": 3, "columnPadding": -3}}
   }},
  {"data": {"name": "France"}, "mark": {"type": "line", "strokeWidth": 2.5},
   "encoding": {"y": {"field": "price", "type": "quantitative"}, "color": {"datum": "France", "type": "nominal"}}},
  {"data": {"name": "GreatBritain"}, "mark": {"type": "line", "strokeWidth": 2.5},
   "encoding": {"y": {"field": "price", "type": "quantitative"}, "color": {"datum": "Great Britain", "type": "nominal"}}},
  {"data": {"name": "Ireland"}, "mark": {"type": "line", "strokeWidth": 2.5},
   "encoding": {"y": {"field": "price", "type": "quantitative"}, "color": {"datum": "Ireland", "type": "nominal"}}},
  {"data": {"name": "NewZealand"}, "mark": {"type": "line", "strokeWidth": 2.5},
   "encoding": {"y": {"field": "price", "type": "quantitative"}, "color": {"datum": "New Zealand", "type": "nominal"}}},
  {"data": {"name": "Spain"}, "mark": {"type": "line", "strokeWidth": 2.5},
   "encoding": {"y": {"field": "price", "type": "quantitative"}, "color": {"datum": "Spain", "type": "nominal"}}},
  {"data": {"name": "yearLines"}, "mark": {"type": "rule", "color": "#000000", "strokeWidth": 5},
   "encoding": {"y": {"datum": 10.68, "type": "quantitative"}, "y2": {"datum": 1.94}}},
  {"data": {"name": "yearLabels"}, "mark": {"type": "text", "font": "Lato", "fontWeight": "bold", "fontSize": 46, "color": "#000000", "align": "center", "baseline": "middle"},
   "encoding": {"y": {"field": "price", "type": "quantitative"}, "text": {"field": "label"}}}
]
}
